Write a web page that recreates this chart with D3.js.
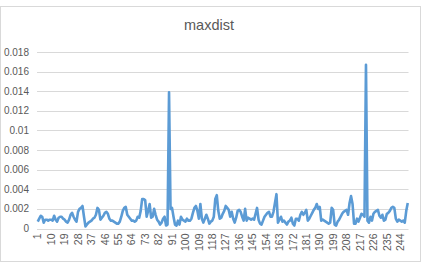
<!DOCTYPE html>
<html>
<head>
<meta charset="utf-8">
<script src="https://cdn.jsdelivr.net/npm/d3@7"></script>
<style>
    body { margin: 0; background: #ffffff; }
    .gridline { stroke: #d9d9d9; stroke-width: 1; }
    .tickText { font-family: "Liberation Sans", Arial, sans-serif; font-size: 10px; fill: #595959; }
    .xLabel { font-size: 10.5px; }
    .chartTitle { font-family: "Liberation Sans", Arial, sans-serif; font-size: 14.5px; fill: #595959; }
    .maxLine { fill: none; stroke: #5b9bd5; stroke-width: 2.6; stroke-linejoin: round; }
</style>
</head>
<body>
<div id="chart"></div>
<script>

// values, one per row (rows 1..249)
var maxdist = [
    0.0007, 0.0010, 0.0013, 0.0012, 0.0006, 0.0009, 0.0009, 0.0008, 0.0009, 0.0009,
    0.0008, 0.0013, 0.0009, 0.0007, 0.0011, 0.0012, 0.0012, 0.0010, 0.0009, 0.0007,
    0.0006, 0.0009, 0.0014, 0.0016, 0.0012, 0.0009, 0.0007, 0.0017, 0.0020, 0.0021,
    0.0023, 0.0012, 0.0002, 0.0004, 0.0006, 0.0007, 0.0008, 0.0010, 0.0011, 0.0014,
    0.0021, 0.0019, 0.0009, 0.0011, 0.0013, 0.0016, 0.0017, 0.0015, 0.0010, 0.0008,
    0.0008, 0.0007, 0.0006, 0.0005, 0.0005, 0.0007, 0.0012, 0.0018, 0.0021, 0.0022,
    0.0014, 0.0012, 0.0010, 0.0008, 0.0008, 0.0007, 0.0008, 0.0012, 0.0011, 0.0018,
    0.0030, 0.0030, 0.0029, 0.0012, 0.0018, 0.0025, 0.0011, 0.0012, 0.0020, 0.0014,
    0.0009, 0.0007, 0.0004, 0.0006, 0.0010, 0.0012, 0.0003, 0.0004, 0.0139, 0.0020,
    0.0021, 0.0012, 0.0004, 0.0003, 0.0008, 0.0004, 0.0012, 0.0009, 0.0008, 0.0007,
    0.0010, 0.0008, 0.0008, 0.0010, 0.0016, 0.0021, 0.0023, 0.0018, 0.0010, 0.0025,
    0.0010, 0.0006, 0.0010, 0.0014, 0.0010, 0.0005, 0.0007, 0.0008, 0.0012, 0.0030,
    0.0034, 0.0018, 0.0010, 0.0011, 0.0015, 0.0018, 0.0023, 0.0021, 0.0019, 0.0012,
    0.0017, 0.0010, 0.0006, 0.0011, 0.0018, 0.0019, 0.0017, 0.0012, 0.0008, 0.0020,
    0.0008, 0.0011, 0.0010, 0.0009, 0.0010, 0.0009, 0.0015, 0.0021, 0.0009, 0.0005,
    0.0004, 0.0008, 0.0012, 0.0014, 0.0016, 0.0017, 0.0012, 0.0012, 0.0017, 0.0026,
    0.0035, 0.0006, 0.0009, 0.0012, 0.0007, 0.0008, 0.0006, 0.0004, 0.0007, 0.0008,
    0.0011, 0.0005, 0.0003, 0.0010, 0.0010, 0.0008, 0.0014, 0.0017, 0.0014, 0.0016,
    0.0019, 0.0008, 0.0010, 0.0013, 0.0016, 0.0019, 0.0021, 0.0025, 0.0020, 0.0022,
    0.0008, 0.0009, 0.0008, 0.0007, 0.0006, 0.0005, 0.0006, 0.0021, 0.0019, 0.0004,
    0.0003, 0.0007, 0.0009, 0.0012, 0.0015, 0.0017, 0.0018, 0.0019, 0.0014, 0.0026,
    0.0033, 0.0025, 0.0005, 0.0005, 0.0010, 0.0007, 0.0011, 0.0015, 0.0014, 0.0012,
    0.0167, 0.0008, 0.0006, 0.0012, 0.0008, 0.0015, 0.0017, 0.0018, 0.0019, 0.0013,
    0.0011, 0.0014, 0.0008, 0.0009, 0.0015, 0.0016, 0.0018, 0.0021, 0.0022, 0.0021,
    0.0010, 0.0007, 0.0009, 0.0008, 0.0007, 0.0008, 0.0006, 0.0018, 0.0026
];

// row numbers 1..N for the category axis
var rows = maxdist.map(function(d, i){ return i + 1; });

// y tick values and the text Excel shows for them
var yTicks = [0, 0.002, 0.004, 0.006, 0.008, 0.01, 0.012, 0.014, 0.016, 0.018];
var yTickLabels = ["0", "0.002", "0.004", "0.006", "0.008", "0.01", "0.012", "0.014", "0.016", "0.018"];

// every ninth row gets a label
var xTickRows = rows.filter(function(r){ return (r - 1) % 9 === 0; });

var chartTitle = "maxdist";

var width = 423, height = 270;
var margin = {top: 52, right: 14.5, bottom: 41.5, left: 37};

var svg = d3.select("#chart").append("svg")
    .attr("width", width)
    .attr("height", height);

//chart border
svg.append("rect")
    .attr("x", 0.5)
    .attr("y", 6.5)
    .attr("width", 420)
    .attr("height", 255)
    .attr("fill", "#ffffff")
    .attr("stroke", "#d9d9d9");

var xscale = d3.scaleBand()
    .domain(rows)
    .range([margin.left, width - margin.right]);

var yscale = d3.scaleLinear()
    .domain([0, 0.018])
    .range([height - margin.bottom, margin.top]);

//horizontal gridlines (the zero line doubles as the axis)
svg.selectAll(".gridline")
    .data(yTicks)
    .enter()
    .append("line")
    .classed("gridline", true)
    .attr("x1", margin.left)
    .attr("x2", width - margin.right)
    .attr("y1", function(d){ return Math.round(yscale(d)) + 0.5; })
    .attr("y2", function(d){ return Math.round(yscale(d)) + 0.5; });

//y labels
svg.selectAll(".yLabel")
    .data(yTicks)
    .enter()
    .append("text")
    .attr("class", "tickText yLabel")
    .attr("x", margin.left - 8)
    .attr("y", function(d){ return yscale(d); })
    .attr("dy", "0.35em")
    .attr("text-anchor", "end")
    .text(function(d, i){ return yTickLabels[i]; });

//x labels, rotated
svg.selectAll(".xLabel")
    .data(xTickRows)
    .enter()
    .append("text")
    .attr("class", "tickText xLabel")
    .attr("transform", function(d){
        var x = xscale(d) + xscale.bandwidth() / 2;
        return "translate(" + x + "," + (height - margin.bottom + 5) + ") rotate(-90)";
    })
    .attr("dy", "0.35em")
    .attr("text-anchor", "end")
    .text(function(d){ return d; });

//the series line
var line = d3.line()
    .x(function(d, i){ return xscale(rows[i]) + xscale.bandwidth() / 2; })
    .y(function(d){ return yscale(d); });

svg.append("path")
    .datum(maxdist)
    .classed("maxLine", true)
    .attr("d", line);

//title
svg.append("text")
    .classed("chartTitle", true)
    .attr("x", 209)
    .attr("y", 30)
    .attr("text-anchor", "middle")
    .text(chartTitle);

</script>
</body>
</html>
